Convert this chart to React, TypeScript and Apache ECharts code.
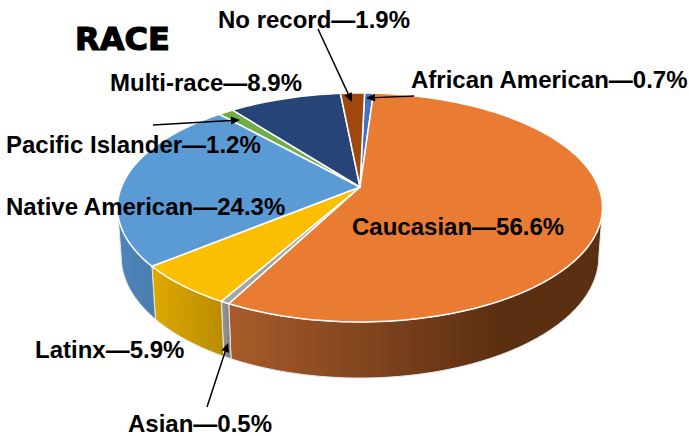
import React, { useEffect, useRef } from "react";
import * as echarts from "echarts";

const categories = ["African American", "Caucasian", "Asian", "Latinx", "Native American", "Pacific Islander", "Multi-race", "No record"];
const shares = [0.7, 56.6, 0.5, 5.9, 24.3, 1.2, 8.9, 1.9];
const topColors = ["#4472c4", "#ea7b32", "#a5a5a5", "#fcbe00", "#5b9bd5", "#70ad47", "#264478", "#9e480e"];
const wallLight = ["#36599a", "#a85b2a", "#9a9a9a", "#dfa900", "#4f86bd", "#5f9239", "#1e3660", "#7c380b"];
const wallDark = ["#36599a", "#5b2f12", "#7c7c7c", "#b98c00", "#4a7cab", "#5f9239", "#1e3660", "#7c380b"];

const labelPlaces = [
  { x: 411, y: 79 }, { x: 352, y: 226 }, { x: 128, y: 423 }, { x: 35, y: 349 },
  { x: 6, y: 206 }, { x: 6, y: 144 }, { x: 110, y: 82 }, { x: 218, y: 19 },
];
const arrows = [
  { from: [414, 96], to: [366, 98] },
  { from: [207, 407], to: [228, 343] },
  { from: [153, 125], to: [240, 120] },
  { from: [318, 29], to: [352, 102] },
];

const CX = 360, CY = 187, RX = 238.6, RY = 110.8, K = 0.179;
const DEPTH = 48.9, Q = 0.015, ROT = 1.3;
const VIS_FROM = 100.3, VIS_TO = 259.7;

function topPt(deg: number) {
  const a = (deg * Math.PI) / 180, u = Math.sin(a), v = Math.cos(a), w = 1 + K * v;
  return [CX + (RX * u) / w, CY - (RY * v) / w];
}
function lowPt(deg: number) {
  const a = (deg * Math.PI) / 180, u = Math.sin(a), v = Math.cos(a), w = 1 + Q + K * v;
  return [CX + (RX * u) / w, CY + (DEPTH - RY * v) / w];
}
function sample(a: number, b: number, fn: (d: number) => number[]) {
  const n = Math.max(2, Math.ceil(Math.abs(b - a) / 1.5));
  const out: number[][] = [];
  for (let i = 0; i <= n; i++) out.push(fn(a + ((b - a) * i) / n));
  return out;
}

const total = shares.reduce((s, v) => s + v, 0);
let run = 0;
const rows = shares.map((v, i) => {
  const start = ROT + (run / total) * 360;
  run += v;
  return [i, start, ROT + (run / total) * 360, v];
});

export default function App() {
  const ref = useRef<HTMLDivElement>(null);
  useEffect(() => {
    const chart = echarts.init(ref.current!, undefined, { renderer: "svg" });
    const wallItem = (_: any, api: any) => {
      const i = api.value(0);
      const s = Math.max(api.value(1), VIS_FROM), e = Math.min(api.value(2), VIS_TO);
      if (e <= s) return { type: "group", children: [] };
      const upper = sample(s, e, topPt), lower = sample(s, e, lowPt).reverse();
      const pts = upper.concat(lower);
      const xs = pts.map((p) => p[0]);
      return {
        type: "polygon",
        shape: { points: pts },
        style: {
          fill: new echarts.graphic.LinearGradient(Math.min(...xs), 0, i === 1 ? 500 : Math.max(...xs), 0, [
            { offset: 0, color: wallLight[i] },
            { offset: 1, color: wallDark[i] },
          ], true),
          stroke: "#e8e8e8",
          lineWidth: 1,
        },
      };
    };
    const topItem = (_: any, api: any) => {
      const i = api.value(0);
      const pts = [[CX, CY]].concat(sample(api.value(1), api.value(2), topPt));
      return {
        type: "polygon",
        shape: { points: pts },
        style: { fill: topColors[i], stroke: "#ffffff", lineWidth: 1.5, lineJoin: "round" },
      };
    };
    const texts = categories.map((c, i) => ({
      type: "text",
      x: labelPlaces[i].x,
      y: labelPlaces[i].y,
      z: 20,
      style: {
        text: `${c}—${shares[i].toFixed(1)}%`,
        font: 'bold 24px "Liberation Sans", Arial, sans-serif',
        fill: "#000",
        verticalAlign: "middle",
      },
    }));
    const arrowEls = arrows.flatMap(({ from, to }) => {
      const ang = Math.atan2(to[1] - from[1], to[0] - from[0]);
      const L = 9, W = 4;
      const bx = to[0] - L * Math.cos(ang), by = to[1] - L * Math.sin(ang);
      return [
        { type: "line", z: 21, shape: { x1: from[0], y1: from[1], x2: bx, y2: by }, style: { stroke: "#000", lineWidth: 1.5 } },
        {
          type: "polygon", z: 21,
          shape: { points: [to, [bx - W * Math.sin(ang), by + W * Math.cos(ang)], [bx + W * Math.sin(ang), by - W * Math.cos(ang)]] },
          style: { fill: "#000" },
        },
      ];
    });
    chart.setOption({
      animation: false,
      backgroundColor: "#ffffff",
      graphic: {
        elements: [
          {
            type: "text", x: 75, y: 39, z: 20,
            style: { text: "RACE", font: 'bold 32px "DejaVu Sans", sans-serif', fill: "#000", stroke: "#000", lineWidth: 1.2, verticalAlign: "middle" },
          },
          ...texts,
          ...arrowEls,
        ],
      },
      series: [
        { type: "custom", coordinateSystem: "none", renderItem: wallItem, data: rows, silent: true, z: 1 },
        { type: "custom", coordinateSystem: "none", renderItem: topItem, data: rows, silent: true, z: 2 },
      ],
    });
    return () => chart.dispose();
  }, []);
  return <div ref={ref} style={{ width: 689, height: 436, position: "absolute", left: 0, top: 0 }} />;
}
